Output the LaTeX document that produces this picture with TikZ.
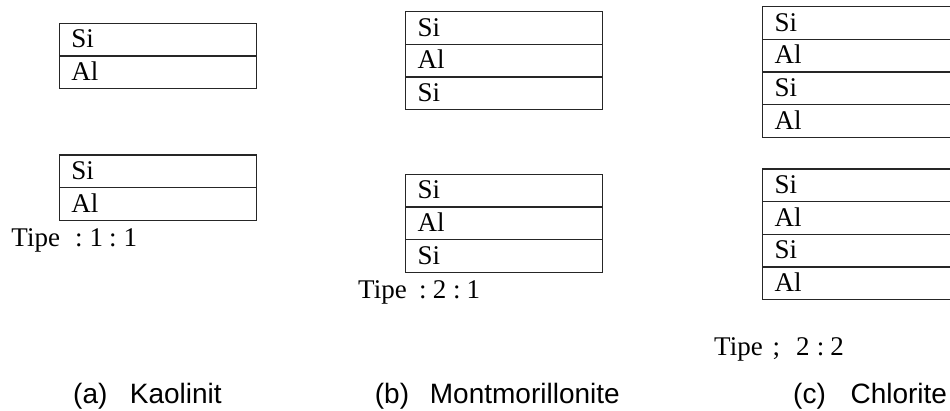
\documentclass[tikz,border=0pt]{standalone}
\usepackage{fontspec}
\setmainfont{Liberation Serif}
\newfontfamily\capfont{Liberation Sans}
\tikzset{
  layer/.style={rectangle, anchor=north west, outer sep=0pt,
    minimum height=32.7pt, inner xsep=12pt, inner ysep=0pt,
    text height=16pt, text depth=0pt, align=left,
    font=\fontsize{27}{31}\selectfont},
  layerK/.style={layer, text width=173.4pt},
  layerM/.style={layer, text width=172.6pt},
  layerC/.style={layer, text width=210pt},
  rim/.style={draw=black!85, line width=1.3pt},
  tipe/.style={anchor=base west, inner sep=0pt, font=\fontsize{27}{31}\selectfont},
  capt/.style={anchor=base west, inner sep=0pt, font=\capfont\fontsize{28}{32}\selectfont}
}
\begin{document}
\begin{tikzpicture}[x=1pt, y=-1pt]
\useasboundingbox (0,0) rectangle (950,410);
\clip (0,0) rectangle (950,410);
% (a) Kaolinit
\node[layerK] (ka1) at (59.3,23.3) {Si};
\node[layerK] (ka2) at (ka1.south west) {Al};
\draw[rim] (ka1.north west) rectangle (ka2.south east);
\draw[rim] (ka1.south west) -- (ka1.south east);
\node[layerK] (kb1) at (59.3,155) {Si};
\node[layerK] (kb2) at (kb1.south west) {Al};
\draw[rim] (kb1.north west) rectangle (kb2.south east);
\draw[rim] (kb1.south west) -- (kb1.south east);
\node[tipe] (tk) at (11.3,246.7) {Tipe\hspace{15pt}:\hspace{7pt}1\hspace{6pt}:\hspace{7pt}1};
% (b) Montmorillonite
\node[layerM] (ma1) at (405.7,11.7) {Si};
\node[layerM] (ma2) at (ma1.south west) {Al};
\node[layerM] (ma3) at (ma2.south west) {Si};
\draw[rim] (ma1.north west) rectangle (ma3.south east);
\draw[rim] (ma1.south west) -- (ma1.south east);
\draw[rim] (ma2.south west) -- (ma2.south east);
\node[layerM] (mb1) at (405.7,174.3) {Si};
\node[layerM] (mb2) at (mb1.south west) {Al};
\node[layerM] (mb3) at (mb2.south west) {Si};
\draw[rim] (mb1.north west) rectangle (mb3.south east);
\draw[rim] (mb1.south west) -- (mb1.south east);
\draw[rim] (mb2.south west) -- (mb2.south east);
\node[tipe] (tm) at (358,298.3) {Tipe\hspace{12.5pt}:\hspace{6pt}2\hspace{7pt}:\hspace{6pt}1};
% (c) Chlorite
\node[layerC] (ca1) at (762.7,6.7) {Si};
\node[layerC] (ca2) at (ca1.south west) {Al};
\node[layerC] (ca3) at (ca2.south west) {Si};
\node[layerC] (ca4) at (ca3.south west) {Al};
\draw[rim] (ca1.north west) rectangle (ca4.south east);
\draw[rim] (ca1.south west) -- (ca1.south east);
\draw[rim] (ca2.south west) -- (ca2.south east);
\draw[rim] (ca3.south west) -- (ca3.south east);
\node[layerC] (cb1) at (762.7,169) {Si};
\node[layerC] (cb2) at (cb1.south west) {Al};
\node[layerC] (cb3) at (cb2.south west) {Si};
\node[layerC] (cb4) at (cb3.south west) {Al};
\draw[rim] (cb1.north west) rectangle (cb4.south east);
\draw[rim] (cb1.south west) -- (cb1.south east);
\draw[rim] (cb2.south west) -- (cb2.south east);
\draw[rim] (cb3.south west) -- (cb3.south east);
\node[tipe] (tc) at (714,355) {Tipe\hspace{10pt};\hspace{16pt}2\hspace{7pt}:\hspace{6pt}2};
% captions
\node[capt] (capa) at (73,403.3) {(a)\hspace{22.5pt}Kaolinit};
\node[capt] (capb) at (374.7,403.3) {(b)\hspace{20.8pt}Montmorillonite};
\node[capt] (capc) at (793,403.3) {(c)\hspace{24.7pt}Chlorite};
\end{tikzpicture}
\end{document}
